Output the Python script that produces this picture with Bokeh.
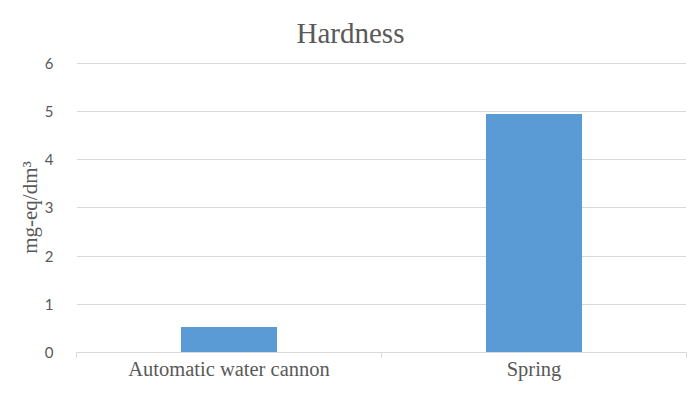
from bokeh.plotting import figure
from bokeh.models import FixedTicker, Range1d, ColumnDataSource
from bokeh.embed import file_html
from bokeh.resources import INLINE

title_text = "Hardness"
categories = ["Automatic water cannon", "Spring"]
values = [0.53, 4.95]
y_ticks = [0, 1, 2, 3, 4, 5, 6]

x_centers = [i + 0.5 for i in range(len(categories))]
boundaries = list(range(len(categories) + 1))
src = ColumnDataSource(data=dict(x=x_centers, top=values, cat=categories))

p = figure(width=688, height=402, output_backend="svg", toolbar_location=None,
           x_range=Range1d(0, len(categories)), y_range=Range1d(0, 6.02),
           min_border_left=76, min_border_right=2, min_border_top=62, min_border_bottom=50)
p.outline_line_color = None

p.vbar(x="x", top="top", bottom=0, width=0.315, source=src,
       fill_color="#5b9bd5", line_color=None)

p.title.text = title_text
p.title.align = "left"
p.title.vertical_align = "top"
p.title.offset = 220
p.title.standoff = 24
p.title.text_font = "Liberation Serif"
p.title.text_font_size = "29px"
p.title.text_font_style = "normal"
p.title.text_color = "#595959"

xa = p.xaxis[0]
xa.ticker = FixedTicker(ticks=x_centers, minor_ticks=boundaries)
xa.major_label_overrides = {x: c for x, c in zip(x_centers, categories)}
xa.major_tick_out = 0
xa.major_tick_in = 0
xa.minor_tick_out = 5
xa.minor_tick_in = 0
xa.minor_tick_line_color = "#d9d9d9"
xa.axis_line_color = "#d9d9d9"
xa.major_label_text_font = "Liberation Serif"
xa.major_label_text_font_size = "20.5px"
xa.major_label_text_color = "#595959"
xa.major_label_standoff = 0

ya = p.yaxis[0]
ya.ticker = FixedTicker(ticks=y_ticks)
ya.axis_line_color = None
ya.major_tick_line_color = None
ya.minor_tick_line_color = None
ya.major_label_text_font = "Lato"
ya.major_label_text_font_size = "15px"
ya.major_label_text_color = "#595959"
ya.major_label_standoff = 17
ya.axis_label = "mg-eq/dm³"
ya.axis_label_text_font = "Liberation Serif"
ya.axis_label_text_font_size = "21px"
ya.axis_label_text_font_style = "normal"
ya.axis_label_text_color = "#595959"
ya.axis_label_standoff = 0

p.xgrid.grid_line_color = None
p.ygrid.grid_line_color = "#d9d9d9"
p.ygrid.grid_line_width = 1

open("out.html", "w").write(file_html(p, INLINE))
